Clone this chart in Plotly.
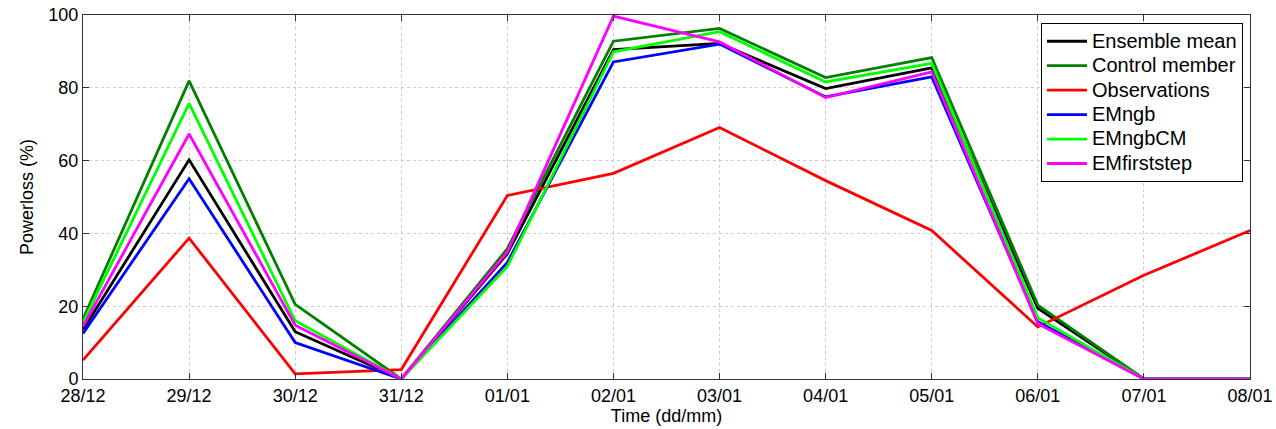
import plotly.graph_objects as go

dates = ["28/12", "29/12", "30/12", "31/12", "01/01", "02/01",
         "03/01", "04/01", "05/01", "06/01", "07/01", "08/01"]

ensemble_mean = [13.5, 60.2, 13.0, 0.0, 34.4, 90.5, 92.2, 79.8, 85.5, 19.4, 0.0, 0.0]
control_member = [16.5, 81.9, 20.5, 0.0, 35.8, 92.8, 96.3, 82.8, 88.3, 20.3, 0.0, 0.0]
observations = [5.2, 38.7, 1.4, 2.6, 50.4, 56.5, 69.1, 54.5, 40.8, 14.3, 28.5, 40.8]
em_ngb = [12.5, 55.0, 10.0, 0.0, 32.0, 87.1, 92.0, 77.5, 83.0, 15.7, 0.0, 0.0]
em_ngb_cm = [15.5, 75.7, 16.0, 0.0, 30.9, 89.9, 95.4, 81.6, 86.7, 16.8, 0.0, 0.0]
em_first_step = [14.5, 67.3, 14.8, 0.0, 34.9, 99.7, 92.6, 77.3, 84.4, 15.2, 0.0, 0.0]

series = [
    ("Ensemble mean", ensemble_mean, "#000000"),
    ("Control member", control_member, "#008000"),
    ("Observations", observations, "#ff0000"),
    ("EMngb", em_ngb, "#0000ff"),
    ("EMngbCM", em_ngb_cm, "#00ff00"),
    ("EMfirststep", em_first_step, "#ff00ff"),
]

x_idx = list(range(len(dates)))

fig = go.Figure()
for name, vals, color in series:
    fig.add_trace(go.Scatter(
        x=x_idx, y=vals, mode="lines",
        # larger glyphs inside a compact legend row
        name=f"<span style='font-size:20px'>{name}</span>",
        line=dict(color=color, width=2.8),
    ))

font_family = "Liberation Sans, Arial, sans-serif"

fig.update_layout(
    width=1276, height=429,
    margin=dict(l=83, r=26, t=15, b=50),
    paper_bgcolor="white", plot_bgcolor="white",
    font=dict(family=font_family, size=18, color="#000000"),
    showlegend=True,
    legend=dict(
        x=0.994, y=0.978, xanchor="right", yanchor="top",
        bgcolor="white", bordercolor="#000000", borderwidth=1,
        font=dict(size=16.5), tracegroupgap=0, itemwidth=40,
    ),
)

fig.update_xaxes(
    range=[0, len(dates) - 1],
    tickmode="array", tickvals=x_idx, ticktext=dates,
    showline=True, linecolor="#333333", linewidth=1, mirror="ticks",
    ticks="inside", ticklen=6, tickcolor="#333333",
    showgrid=True, gridcolor="#cccccc", griddash="dot", gridwidth=1,
    zeroline=False, automargin=False,
    title=dict(text="Time (dd/mm)", standoff=0, font=dict(size=18)),
    tickfont=dict(size=18),
)
fig.update_yaxes(
    range=[0, 100], tickvals=[0, 20, 40, 60, 80, 100],
    showline=True, linecolor="#333333", linewidth=1, mirror="ticks",
    ticks="inside", ticklen=6, tickcolor="#333333",
    showgrid=True, gridcolor="#cccccc", griddash="dot", gridwidth=1,
    zeroline=False, automargin=False,
    title=dict(text="Powerloss (%)", standoff=10, font=dict(size=18)),
    tickfont=dict(size=18),
)

fig.write_html("out.html")
